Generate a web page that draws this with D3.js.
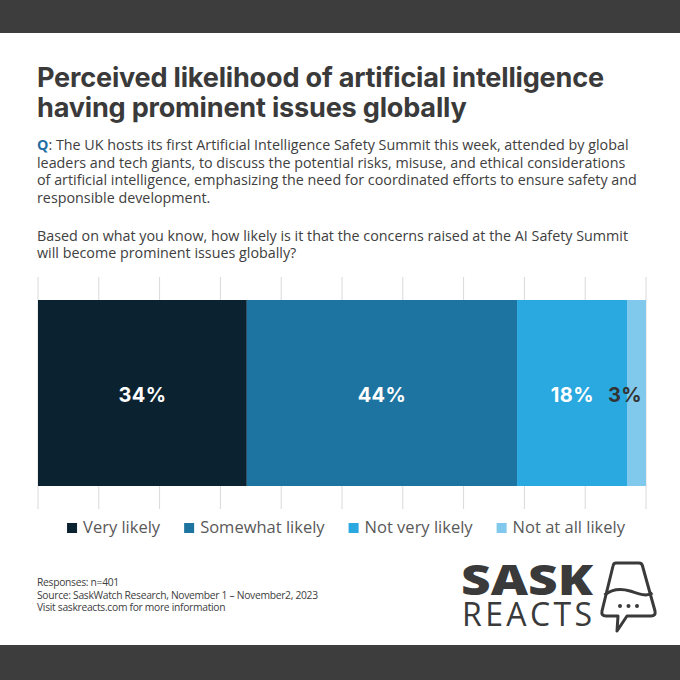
<!DOCTYPE html>
<html><head><meta charset="utf-8">
<script src="https://cdn.jsdelivr.net/npm/d3@7"></script>
<style>body{margin:0;background:#fff}</style>
</head><body>
<svg id="c" width="680" height="680"></svg>
<script>
// ---- data ----
const categories = ["Very likely", "Somewhat likely", "Not very likely", "Not at all likely"];
const values = [34, 44, 18, 3];
const valueLabels = ["34%", "44%", "18%", "3%"];
const colors = ["#0b2230", "#1e74a0", "#2aa9e1", "#80c8ec"];
const titleLines = ["Perceived likelihood of artificial intelligence", "having prominent issues globally"];
const questionLines = [
  ": The UK hosts its first Artificial Intelligence Safety Summit this week, attended  by global",
  "leaders and tech giants, to discuss the potential  risks, misuse, and ethical considerations",
  "of artificial intelligence, emphasizing the need for coordinated efforts to ensure safety and",
  "responsible development.",
  "",
  "Based on what you know, how likely is it that the concerns raised at the AI Safety Summit",
  "will become  prominent issues globally?"
];
const footerLines = [
  "Responses: n=401",
  "Source: SaskWatch Research, November 1 \u2013 November2, 2023",
  "Visit saskreacts.com for more information"
];

const svg = d3.select("#c");
const W = 680, H = 680;

function fit(sel, target) {
  const w = sel.node().getComputedTextLength();
  const fs = parseFloat(sel.attr("font-size"));
  return fs * target / w;
}

// background + bands
svg.append("rect").attr("width", W).attr("height", H).attr("fill", "#fff");
svg.append("rect").attr("x", 0).attr("y", 0).attr("width", W).attr("height", 33).attr("fill", "#3d3d3d");
svg.append("rect").attr("x", 0).attr("y", 645).attr("width", W).attr("height", 35).attr("fill", "#3d3d3d");

// title
const tg = svg.append("g");
const t1 = tg.append("text").attr("x", 37).attr("y", 87).attr("font-family", "Inter, 'Open Sans', sans-serif")
  .attr("font-weight", 700).attr("font-size", 24).attr("fill", "#3a3a3a").attr("letter-spacing", -0.2).text(titleLines[0]);
const tfs = fit(t1, 566);
t1.attr("font-size", tfs);
tg.append("text").attr("x", 37).attr("y", 117).attr("font-family", "Inter, 'Open Sans', sans-serif")
  .attr("font-weight", 700).attr("font-size", tfs).attr("fill", "#3a3a3a").attr("letter-spacing", -0.2).text(titleLines[1]);

// question
const qg = svg.append("g").attr("font-family", "'Open Sans', 'Noto Sans', sans-serif").attr("fill", "#404040");
const qBase = [150, 167.7, 185.4, 203.1, 0, 240.5, 258.2];
let qfs = 14;
const q0 = qg.append("text").attr("x", 37).attr("y", qBase[0]).attr("font-size", qfs);
q0.append("tspan").attr("fill", "#1f6fa3").attr("font-weight", 700).text("Q");
q0.append("tspan").text(questionLines[0]);
qfs = fit(q0, 592);
q0.attr("font-size", qfs);
questionLines.forEach((l, i) => {
  if (i === 0 || !l) return;
  qg.append("text").attr("x", 37).attr("y", qBase[i]).attr("font-size", qfs).text(l);
});

// chart
const x0 = 38, x1 = 646, barTop = 300, barBot = 486;
const total = d3.sum(values);
const x = d3.scaleLinear().domain([0, 1]).range([x0, x1]);
const shares = values.map(v => v / total);
const starts = d3.cumsum([0, ...shares]).slice(0, values.length);

// gridlines
svg.append("g").selectAll("line").data(x.ticks(10)).join("line")
  .attr("x1", d => x(d)).attr("x2", d => x(d)).attr("y1", 277).attr("y2", 509)
  .attr("stroke", "#d9d9d9").attr("stroke-width", 1);

// bars
svg.append("g").selectAll("rect").data(values).join("rect")
  .attr("x", (d, i) => x(starts[i])).attr("width", (d, i) => x(starts[i] + shares[i]) - x(starts[i]))
  .attr("y", barTop).attr("height", barBot - barTop).attr("fill", (d, i) => colors[i]);

// labels
svg.append("g").selectAll("text").data(values).join("text")
  .attr("x", (d, i) => i < 3 ? x(starts[i] + shares[i] / 2) : x(starts[i] + shares[i]) - 4)
  .attr("text-anchor", (d, i) => i < 3 ? "middle" : "end")
  .attr("y", 402).attr("font-family", "Inter, sans-serif").attr("font-weight", 700).attr("font-size", 20)
  .attr("letter-spacing", 0.4)
  .attr("fill", (d, i) => i < 3 ? "#fff" : "#333").text((d, i) => valueLabels[i]);

// legend
const lg = svg.append("g").attr("font-family", "'Open Sans', 'Noto Sans', sans-serif");
const items = categories.map((c, i) => {
  const g = lg.append("g");
  g.append("rect").attr("width", 10).attr("height", 10).attr("y", -10).attr("fill", colors[i]);
  const t = g.append("text").attr("x", 16).attr("y", 0).attr("font-size", 16.5).attr("fill", "#595959").text(c);
  return { g, w: 16 + t.node().getComputedTextLength() };
});
const gap = 24;
const totalW = d3.sum(items, d => d.w) + gap * (items.length - 1);
let lx = 346 - totalW / 2;
items.forEach(it => { it.g.attr("transform", `translate(${lx},533)`); lx += it.w + gap; });

// footer
const fg = svg.append("g").attr("font-family", "'Open Sans', 'Noto Sans', sans-serif").attr("fill", "#404040");
const fb = [586, 598.5, 611];
const f1 = fg.append("text").attr("x", 37).attr("y", fb[1]).attr("font-size", 11).attr("letter-spacing", -0.3).text(footerLines[1]);
const ffs = fit(f1, 282);
f1.attr("font-size", ffs);
[0, 2].forEach(i => fg.append("text").attr("x", 37).attr("y", fb[i]).attr("font-size", ffs).attr("letter-spacing", -0.3).text(footerLines[i]));

// logo
const logo = svg.append("g").attr("fill", "#3a3a3a");
logo.append("text").attr("x", 461).attr("y", 595).attr("font-family", "'Open Sans', sans-serif")
  .attr("font-weight", 800).attr("font-size", 42).attr("textLength", 132).attr("lengthAdjust", "spacingAndGlyphs").text("SASK");
logo.append("text").attr("x", 462).attr("y", 626).attr("font-family", "'Open Sans', sans-serif")
  .attr("font-weight", 400).attr("font-size", 32).attr("textLength", 130).attr("lengthAdjust", "spacing").text("REACTS");
const icon = svg.append("g").attr("fill", "none").attr("stroke", "#3a3a3a").attr("stroke-width", 3).attr("stroke-linejoin", "round");
icon.append("path").attr("d", "M616,563 L639,563 Q642,563 642.5,566 L655,611 Q656,616 651,616 L627,616 L617,631 L618,616 L606,616 Q601,616 602,611 L613,566 Q613.5,563 616,563 Z");
icon.append("path").attr("d", "M604.5,595 C612,589 620,588 630,591 C640,594 646,597 652.5,593");
icon.selectAll("circle").data([620, 628.5, 637]).join("circle").attr("cx", d => d).attr("cy", 606).attr("r", 2).attr("fill", "#3a3a3a").attr("stroke", "none");
</script>
</body></html>
